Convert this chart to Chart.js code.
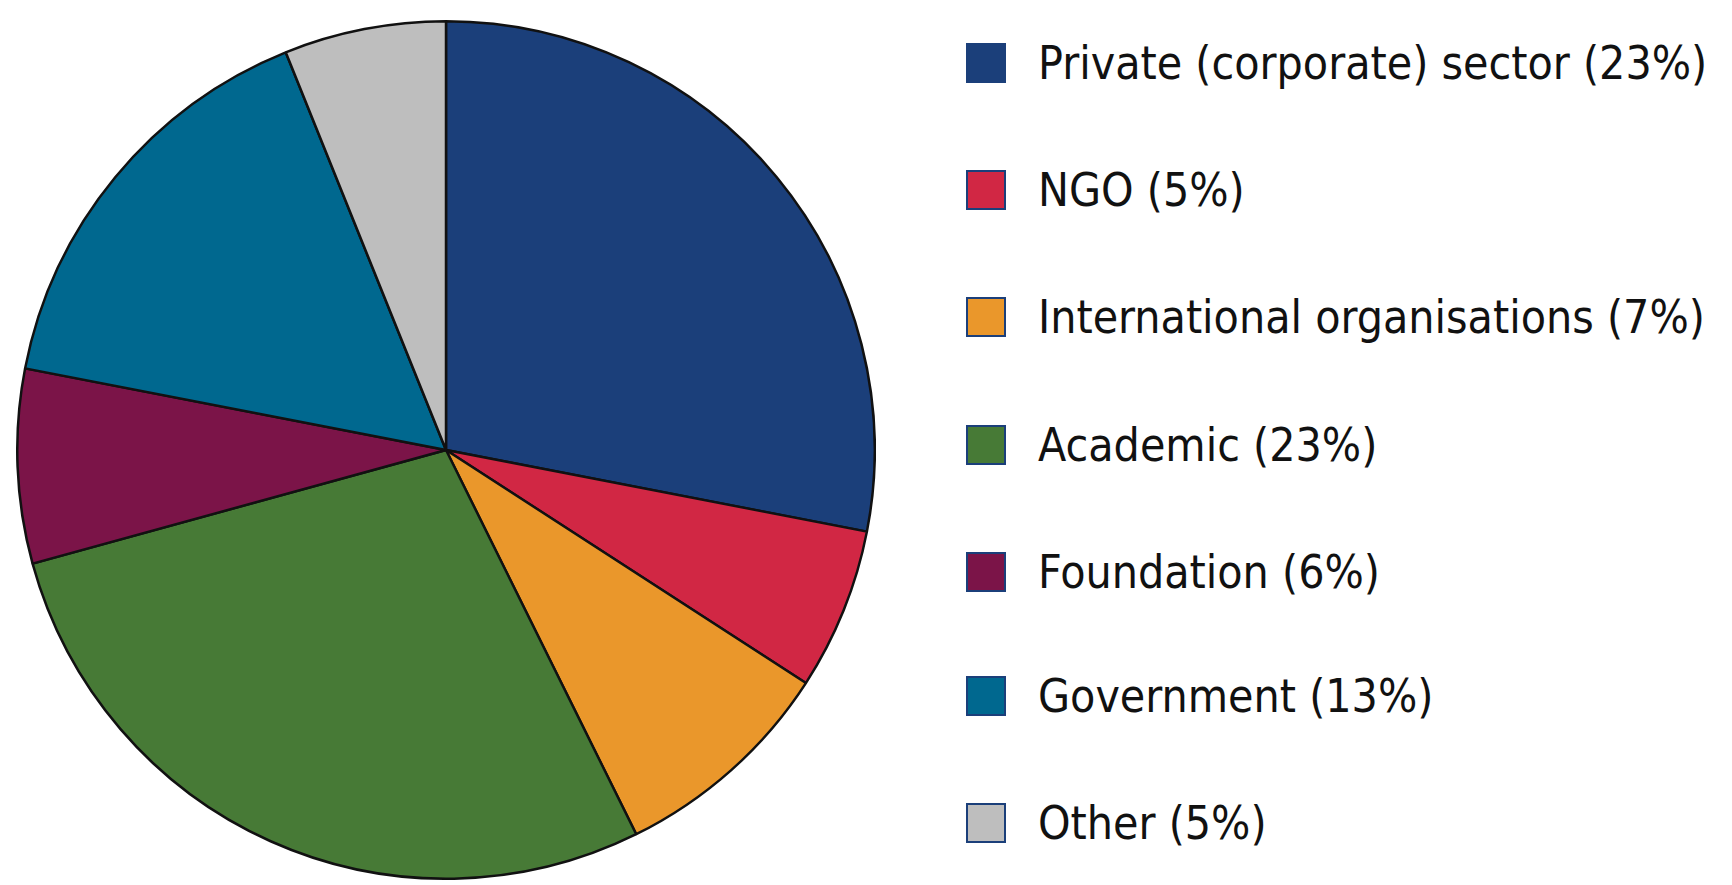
<!DOCTYPE html>
<html>
<head>
<meta charset="utf-8">
<script src="https://cdn.jsdelivr.net/npm/chart.js@4/dist/chart.umd.min.js"></script>
<style>
  body { margin: 0; background: #fff; width: 1732px; height: 885px; overflow: hidden; position: relative; }
  #pie-wrap { position: absolute; left: 16px; top: 20px; width: 860px; height: 860px; }
  #legend { position: absolute; left: 966px; top: 0; }
  .item { position: absolute; left: 0; display: flex; align-items: center; white-space: nowrap;
          font-family: "Liberation Sans Narrow", "DejaVu Sans Condensed", "Noto Sans", sans-serif;
          font-size: 46px; color: #111; }
  .box { width: 40px; height: 40px; box-sizing: border-box; border: 2px solid #1b3f7a; margin-right: 32px; }
</style>
</head>
<body>
<div id="pie-wrap"><canvas id="pie"></canvas></div>
<div id="legend"></div>
<script>
// Data
const categories = ['Private (corporate) sector', 'NGO', 'International organisations', 'Academic', 'Foundation', 'Government', 'Other'];
const shares = [23, 5, 7, 23, 6, 13, 5];
const colours = ['#1b3f7a', '#d12744', '#ea972b', '#477a36', '#7b1448', '#00688f', '#bebebe'];

const labels = categories.map((c, i) => `${c} (${shares[i]}%)`);

new Chart(document.getElementById('pie'), {
    type: 'pie',
    data: {
        labels: labels,
        datasets: [{
            data: shares,
            backgroundColor: colours,
            borderColor: '#111',
            borderWidth: 2.5
        }]
    },
    options: {
        responsive: true,
        maintainAspectRatio: false,
        animation: false,
        plugins: { legend: { display: false }, tooltip: { enabled: false } }
    }
});

// Legend built from the same arrays
const legend = document.getElementById('legend');
const rowY = [63, 190, 317, 445, 572, 696, 823];
labels.forEach((text, i) => {
    const row = document.createElement('div');
    row.className = 'item';
    row.style.top = (rowY[i] - 30) + 'px';
    row.style.height = '60px';
    row.innerHTML = `<div class="box" style="background:${colours[i]}"></div><span>${text}</span>`;
    legend.appendChild(row);
});
</script>
</body>
</html>
